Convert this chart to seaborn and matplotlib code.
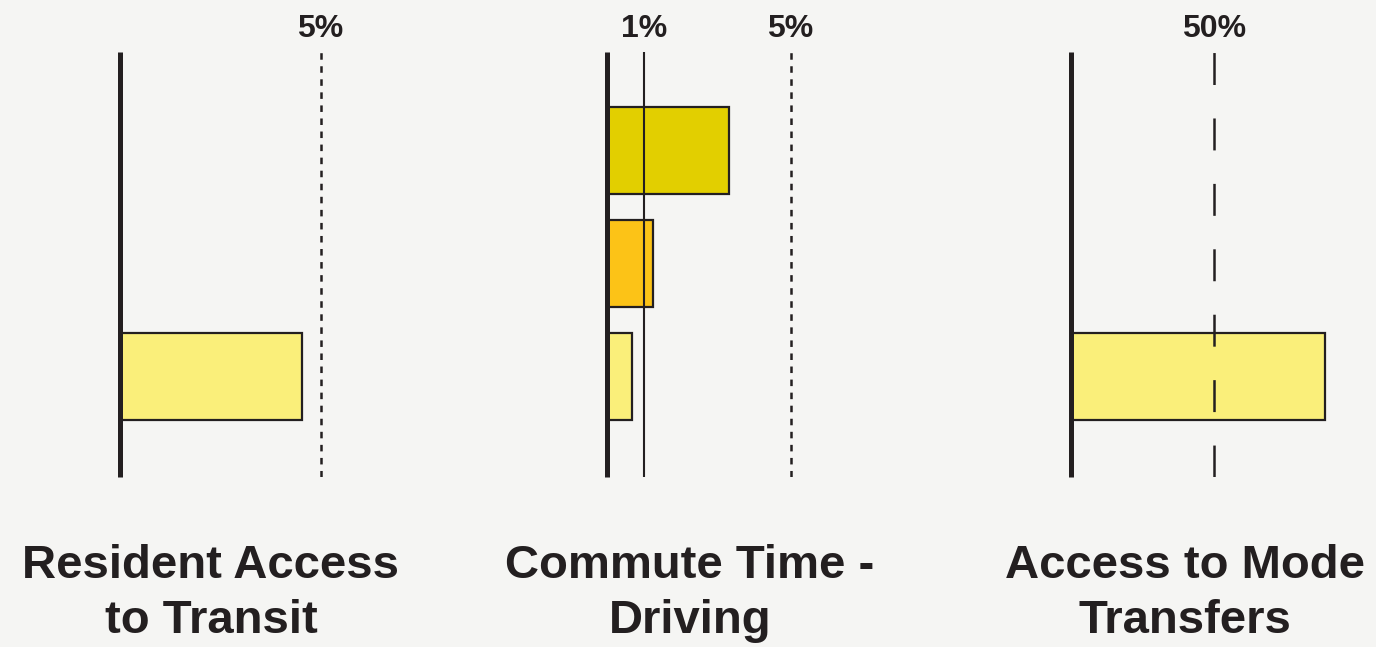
"""
Three small horizontal bar panels with reference lines and bold captions.
"""

import numpy as np
import pandas as pd

import matplotlib

matplotlib.use("Agg")
import matplotlib.pyplot as plt
import seaborn as sns

# ---- data -------------------------------------------------------------
categories = ["Tier 1", "Tier 2", "Tier 3"]
bar_colors = ["#e2cf00", "#fcc317", "#faef7a"]

panel_titles = [
    "Resident Access\nto Transit",
    "Commute Time -\nDriving",
    "Access to Mode\nTransfers",
]
transit_values = [np.nan, np.nan, 4.53]
driving_values = [3.33, 1.26, 0.69]
transfer_values = [np.nan, np.nan, 88.6]

transit_refs = [5]
driving_refs = [1, 5]
transfer_refs = [50]

# ---- style ------------------------------------------------------------
BG = "#f5f5f3"
INK = "#231f20"

sns.set_style("white", {"axes.facecolor": BG, "figure.facecolor": BG})
plt.rcParams["font.family"] = ["Liberation Sans", "DejaVu Sans"]
plt.rcParams["lines.scale_dashes"] = False

W, H = 1376, 647
fig = plt.figure(figsize=(W / 100, H / 100), dpi=100)
fig.patch.set_facecolor(BG)

# pixel layout: (left px, width px, x max)
layout = [
    (120, 240, 240 / 40.1),
    (607, 230, 230 / 36.7),
    (1071, 290, 290 / 2.866),
]
title_x = [211, 690, 1185]
top_px, bottom_px = 52, 477

panels = [
    (transit_values, transit_refs, "dotted"),
    (driving_values, driving_refs, "mixed"),
    (transfer_values, transfer_refs, "dashed"),
]

palette = dict(zip(categories, bar_colors))

for i, ((vals, refs, kind), (left, width, xmax)) in enumerate(zip(panels, layout)):
    ax = fig.add_axes(
        [left / W, 1 - bottom_px / H, width / W, (bottom_px - top_px) / H]
    )
    df = pd.DataFrame({"cat": categories, "value": vals})
    sns.barplot(
        data=df,
        x="value",
        y="cat",
        hue="cat",
        order=categories,
        palette=palette,
        saturation=1,
        orient="h",
        width=0.77,
        edgecolor=INK,
        linewidth=1.6,
        errorbar=None,
        legend=False,
        ax=ax,
    )
    ax.set_xlim(0, xmax)
    ax.set_ylim(2 + 0.889, -0.872)
    ax.set_xlabel("")
    ax.set_ylabel("")
    ax.set_xticks([])
    ax.set_yticks([])
    for side in ["top", "right", "bottom"]:
        ax.spines[side].set_visible(False)
    ax.spines["left"].set_linewidth(3.6)
    ax.spines["left"].set_color(INK)
    ax.spines["left"].set_capstyle("butt")

    for r in refs:
        if kind == "dashed":
            ls = (0, (23.0, 24.1))
            lw = 1.8
        elif kind == "mixed" and r == 1:
            ls = "-"
            lw = 1.5
        else:
            ls = (0, (4.7, 4.7))
            lw = 1.8
        ax.axvline(r, color=INK, lw=lw, linestyle=ls, zorder=3)
        ax.text(
            r,
            1 + 15 / (bottom_px - top_px),
            f"{r}%",
            transform=ax.get_xaxis_transform(),
            ha="center",
            va="baseline",
            fontsize=23,
            fontweight="bold",
            color=INK,
        )

    fig.text(
        title_x[i] / W,
        1 - 633 / H,
        panel_titles[i],
        ha="center",
        va="baseline",
        fontsize=34,
        fontweight="bold",
        color=INK,
        linespacing=1.32,
    )

fig.savefig("out.png", dpi=100, facecolor=BG)
